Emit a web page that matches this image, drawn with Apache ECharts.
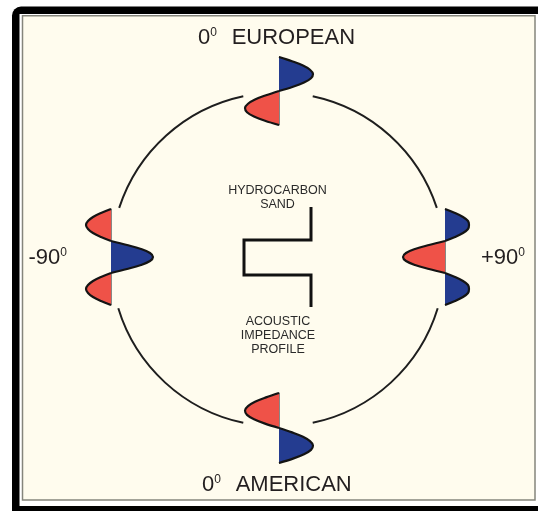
<!DOCTYPE html>
<html>
<head>
<meta charset="utf-8">
<script src="https://cdn.jsdelivr.net/npm/echarts@6/dist/echarts.min.js"></script>
<style>
html,body{margin:0;padding:0;background:#fff;}
#chart{width:538px;height:511px;}
</style>
</head>
<body>
<div id="chart"></div>
<script>
// ---- data ----
// wavelet amplitudes (positive = right / blue, negative = left / red), sampled top to bottom
const waveTop    = [0, 13, 24, 31, 34, 32, 25, 14, 0, -13, -24, -31, -34, -32, -25, -14, 0];
const waveBottom = [0, -13, -24, -31, -34, -32, -25, -14, 0, 13, 24, 31, 34, 32, 25, 14, 0];
const waveLeft   = [0, -10, -18, -23, -25, -23, -18, -10, 0, 16, 30, 39, 42, 39, 30, 16, 0, -10, -18, -23, -25, -23, -18, -10, 0];
const waveRight  = [0, 10, 18, 23, 24, 23, 18, 10, 0, -16, -30, -39, -42, -39, -30, -16, 0, 10, 18, 23, 24, 23, 18, 10, 0];
// circle arcs between the wavelets (degrees, counter-clockwise from +90 side)
const arcStart = [18, 102, 197, 282];
const arcEnd   = [78, 162, 258, 343];
// acoustic impedance step profile
const profileImpedance = [1, 1, 0, 0, 1, 1];
const profileDepth     = [0, 33, 33, 68, 68, 100];
// texts
const labelTop = 'EUROPEAN';
const labelBottom = 'AMERICAN';
const labelLeft = '-90';
const labelRight = '+90';
const labelSand = 'HYDROCARBON\nSAND';
const labelProfile = 'ACOUSTIC\nIMPEDANCE\nPROFILE';

const FONT = "'Liberation Sans', Arial, Helvetica, sans-serif";
const RED = '#ef5248';
const BLUE = '#243c90';
const INK = '#231f20';

const chart = echarts.init(document.getElementById('chart'), null, {renderer: 'canvas'});

const waves = [waveTop, waveBottom, waveLeft, waveRight];
const gridBoxes = [
  {left: 229, top: 57, width: 100, height: 68},
  {left: 229, top: 393, width: 100, height: 70},
  {left: 61, top: 209, width: 100, height: 96},
  {left: 395, top: 209, width: 100, height: 96}
];

function lobe(values, sign) {
  const inside = v => v !== undefined && (sign > 0 ? v > 0 : v < 0);
  return values.map((v, i) => (inside(v) || (v === 0 && (inside(values[i - 1]) || inside(values[i + 1])))) ? v : null);
}

const grids = [], xAxes = [], yAxes = [], series = [];
waves.forEach((w, gi) => {
  grids.push(Object.assign({containLabel: false, outerBoundsMode: 'none'}, gridBoxes[gi]));
  xAxes.push({type: 'value', gridIndex: gi, min: -50, max: 50, show: false});
  yAxes.push({
    type: 'category', gridIndex: gi, inverse: true, boundaryGap: false,
    data: w.map((_, i) => i),
    axisLine: {show: true, onZero: true, lineStyle: {color: '#6a6a6a', width: 0.8}},
    axisTick: {show: false}, axisLabel: {show: false}, splitLine: {show: false}
  });
  [[1, BLUE], [-1, RED]].forEach(([sg, col]) => {
    series.push({
      type: 'line', xAxisIndex: gi, yAxisIndex: gi,
      data: lobe(w, sg), connectNulls: false, smooth: 0.35,
      symbol: 'none', clip: false, z: 3,
      lineStyle: {color: '#141414', width: 2.2},
      areaStyle: {color: col, opacity: 1},
      silent: true
    });
  });
});

// profile grid
grids.push({left: 244, top: 207, width: 67, height: 100, containLabel: false, outerBoundsMode: 'none'});
xAxes.push({type: 'value', gridIndex: 4, min: 0, max: 1, show: false});
yAxes.push({type: 'value', gridIndex: 4, min: 0, max: 100, inverse: true, show: false});
series.push({
  type: 'line', xAxisIndex: 4, yAxisIndex: 4, symbol: 'none', clip: false, z: 3,
  data: profileImpedance.map((v, i) => [v, profileDepth[i]]),
  lineStyle: {color: '#111', width: 3, join: 'miter', cap: 'butt'},
  silent: true
});

// circle arcs
series.push({
  type: 'custom', coordinateSystem: 'polar', silent: true, z: 2,
  data: arcStart.map((s, i) => [s, arcEnd[i]]),
  renderItem: function (params, api) {
    const s = api.value(0), e = api.value(1);
    const c = api.coord([0, 0]);
    const p0 = api.coord([1, s]);
    const p1 = api.coord([1, e]);
    const r = Math.hypot(p0[0] - c[0], p0[1] - c[1]);
    const a0 = Math.atan2(p0[1] - c[1], p0[0] - c[0]);
    const a1 = Math.atan2(p1[1] - c[1], p1[0] - c[0]);
    let d = a1 - a0;
    while (d > Math.PI) d -= 2 * Math.PI;
    while (d <= -Math.PI) d += 2 * Math.PI;
    return {
      type: 'arc',
      shape: {cx: c[0], cy: c[1], r: r, startAngle: a0, endAngle: a1, clockwise: d > 0},
      style: {stroke: '#1e1e1e', lineWidth: 2, fill: null}
    };
  }
});

function degText(x, y, main, rest) {
  return {
    type: 'text', x: x, y: y, z: 10, silent: true,
    style: {
      text: '{b|' + main + '}{s|0}' + (rest ? '{b|  ' + rest + '}' : ''),
      align: 'left', verticalAlign: 'middle',
      rich: {
        b: {fontSize: 22, fontFamily: FONT, fill: INK},
        s: {fontSize: 12, fontFamily: FONT, fill: INK, verticalAlign: 'top', padding: [0, 2.5, 0, 0]}
      }
    }
  };
}

const option = {
  animation: false,
  backgroundColor: '#ffffff',
  polar: {center: [278, 259.5], radius: 167},
  radiusAxis: {type: 'value', min: 0, max: 1, show: false, axisLine: {show: false}, axisTick: {show: false}, axisLabel: {show: false}, splitLine: {show: false}},
  angleAxis: {type: 'value', min: 0, max: 360, startAngle: 0, clockwise: false, show: false, axisLine: {show: false}, axisTick: {show: false}, axisLabel: {show: false}, splitLine: {show: false}},
  grid: grids,
  xAxis: xAxes,
  yAxis: yAxes,
  series: series,
  graphic: [
    {type: 'rect', z: -30, silent: true, shape: {x: 12, y: 6.5, width: 560, height: 540, r: [9, 0, 0, 0]}, style: {fill: '#000'}},
    {type: 'rect', z: -29, silent: true, shape: {x: 19.5, y: 14, width: 540, height: 492}, style: {fill: '#fff'}},
    {type: 'rect', z: -28, silent: true, shape: {x: 22.5, y: 15.8, width: 512.5, height: 484.2}, style: {fill: '#fffcee', stroke: '#85857c', lineWidth: 1.5}},
    degText(198, 38, '0', labelTop),
    degText(202, 485, '0', labelBottom),
    degText(28.5, 258, labelLeft, ''),
    degText(481, 258, labelRight, ''),
    {type: 'text', x: 277.5, y: 198, z: 10, silent: true,
      style: {text: labelSand, align: 'center', verticalAlign: 'middle', fontSize: 12.5, lineHeight: 14, fontFamily: FONT, fill: '#2a2a2a'}},
    {type: 'text', x: 278, y: 336, z: 10, silent: true,
      style: {text: labelProfile, align: 'center', verticalAlign: 'middle', fontSize: 12.5, lineHeight: 14, fontFamily: FONT, fill: '#2a2a2a'}}
  ]
};
chart.setOption(option);
</script>
</body>
</html>
